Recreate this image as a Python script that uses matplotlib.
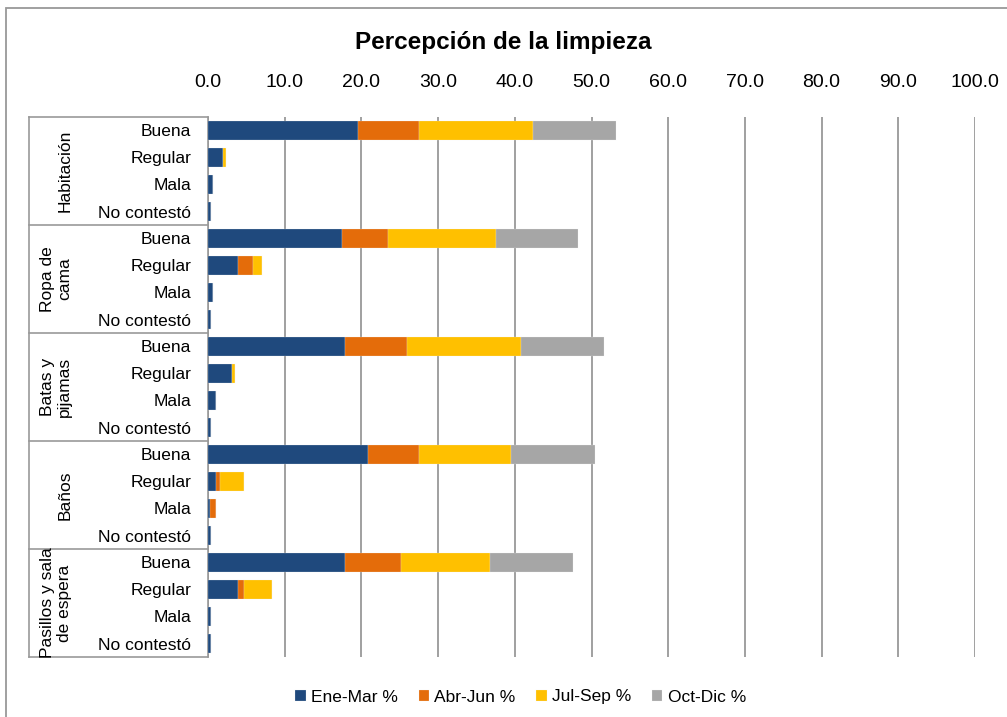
import matplotlib.pyplot as plt
import matplotlib.transforms as mtransforms
from matplotlib.lines import Line2D
from matplotlib.patches import Rectangle
import numpy as np

plt.rcParams['font.family'] = ['Liberation Sans', 'DejaVu Sans']

# Data
groups = ['Habitación', 'Ropa de\ncama', 'Batas y\npijamas', 'Baños', 'Pasillos y sala\nde espera']
answers = ['Buena', 'Regular', 'Mala', 'No contestó']
series = ['Ene-Mar %', 'Abr-Jun %', 'Jul-Sep %', 'Oct-Dic %']
colors = ['#1F497D', '#E46C0A', '#FFC000', '#A6A6A6']

ene_mar = [19.5, 1.9, 0.7, 0.4,
           17.5, 3.9, 0.7, 0.4,
           17.9, 3.1, 1.1, 0.4,
           20.8, 1.0, 0.3, 0.4,
           17.9, 3.9, 0.4, 0.4]
abr_jun = [8.0, 0.1, 0.0, 0.0,
           6.0, 2.0, 0.0, 0.0,
           8.0, 0.0, 0.0, 0.0,
           6.7, 0.5, 0.8, 0.0,
           7.2, 0.8, 0.0, 0.0]
jul_sep = [14.9, 0.4, 0.0, 0.0,
           14.0, 1.2, 0.0, 0.0,
           14.9, 0.4, 0.0, 0.0,
           12.0, 3.2, 0.0, 0.0,
           11.7, 3.7, 0.0, 0.0]
oct_dic = [10.8, 0.0, 0.0, 0.0,
           10.8, 0.0, 0.0, 0.0,
           10.8, 0.0, 0.0, 0.0,
           10.9, 0.0, 0.0, 0.0,
           10.8, 0.0, 0.0, 0.0]

W, H = 1007, 717
fig = plt.figure(figsize=(W / 100, H / 100), dpi=100)
ax = fig.add_axes([208 / W, 1 - 657 / H, (975 - 208) / W, (657 - 117) / H])

n = len(groups) * len(answers)
y = np.arange(n)
left = np.zeros(n)
for vals, name, c in zip([ene_mar, abr_jun, jul_sep, oct_dic], series, colors):
    vals = np.array(vals)
    ax.barh(y, vals, left=left, height=0.72, color=c, label=name,
            edgecolor='#f4f4f4', linewidth=0.15, zorder=3)
    left += vals

ax.set_xlim(0, 100)
ax.set_ylim(n - 0.5, -0.5)
ax.set_xticks(np.arange(0, 101, 10))
ax.set_xticklabels([f'{v:.1f}' for v in np.arange(0, 101, 10)])
ax.xaxis.tick_top()
ax.tick_params(axis='x', length=0, pad=19, labelsize=14)
ax.set_yticks(y)
ax.set_yticklabels(answers * len(groups), fontsize=12.5)
ax.tick_params(axis='y', length=0, pad=12)
ax.grid(axis='x', color='#999999', linewidth=1.3, zorder=0)
for s in ['top', 'right', 'bottom']:
    ax.spines[s].set_visible(False)
ax.spines['left'].set_color('#999999')
ax.spines['left'].set_linewidth(1.2)

# category table lines on the left
tr = mtransforms.blended_transform_factory(fig.transFigure, ax.transData)
x0 = 29 / W
x1 = 208 / W
for b in np.arange(-0.5, n, len(answers)):
    fig.add_artist(Line2D([x0, x1], [b, b], transform=tr, color='#999999', lw=1.2))
fig.add_artist(Line2D([x0, x0], [-0.5, n - 0.5], transform=tr, color='#999999', lw=1.2))
for i, g in enumerate(groups):
    yc = i * len(answers) + 1.5
    xc = 56 if '\n' in g else 65
    fig.text(xc / W, yc, g, transform=tr, rotation=90, ha='center', va='center',
             fontsize=12.5, linespacing=1.2)

fig.text(0.5, 1 - 42 / H, 'Percepción de la limpieza', ha='center', va='center',
         fontsize=17.5, fontweight='bold')

fig.legend(loc='center', bbox_to_anchor=(0.517, 1 - 697 / H), ncol=4, frameon=False,
           fontsize=12.5, handlelength=0.6, handleheight=0.6, handletextpad=0.3,
           columnspacing=1.2)

# outer chart frame
fig.add_artist(Rectangle((6 / W, -0.01), 1.02, 1 - 8 / H + 0.01, transform=fig.transFigure,
                         fill=False, edgecolor='#999999', lw=1.3))

fig.savefig('out.png', dpi=100)
